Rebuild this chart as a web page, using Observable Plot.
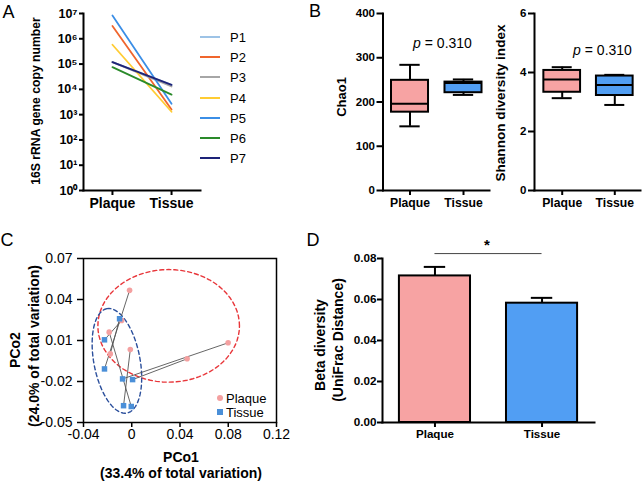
<!DOCTYPE html>
<html><head><meta charset="utf-8">
<script src="https://cdn.jsdelivr.net/npm/d3@7"></script>
<script src="https://cdn.jsdelivr.net/npm/@observablehq/plot@0.6"></script>
<style>
body{margin:0;background:#fff}
#root{position:relative;width:643px;height:481px;overflow:hidden;background:#fff;font-family:"Liberation Sans",Arial,Helvetica,sans-serif;color:#000}
.abs{position:absolute;white-space:nowrap;line-height:1}
#root svg{position:absolute;overflow:visible;background:transparent}
</style></head><body><div id="root"></div>
<script>
// ---------------- DATA ----------------
const groups = ["Plaque", "Tissue"];
const groupFill = ["#f7a3a3", "#519ef3"];

// Panel A: 16S rRNA gene copy number per patient
const patients = ["P1", "P2", "P3", "P4", "P5", "P6", "P7"];
const patientColors = ["#9dc3e6", "#f0652d", "#a6a6a6", "#ffcc33", "#3b8ee6", "#2a8a2a", "#1d2378"];
const copyPlaque = [1.2e5, 3.2e6, 1.2e5, 5.8e5, 8.3e6, 7.6e4, 1.2e5];
const copyTissue = [1.5e4, 1.6e3, 1.3e4, 1.3e3, 2.7e3, 6.2e3, 1.5e4];
const copyTicks = [1, 10, 100, 1e3, 1e4, 1e5, 1e6, 1e7];

// Panel B: box plot summaries [Plaque, Tissue]
const chaoMin = [145, 216], chaoQ1 = [177, 221], chaoMedian = [196, 243], chaoQ3 = [249, 245], chaoMax = [284, 251];
const chaoTicks = [0, 100, 200, 300, 400];
const shanMin = [3.13, 2.90], shanQ1 = [3.33, 3.22], shanMedian = [3.76, 3.58], shanQ3 = [4.07, 3.88], shanMax = [4.18, 3.92];
const shanTicks = [0, 2, 4, 6];
const pText = ["0.310", "0.310"];

// Panel C: PCoA coordinates, paired by patient (plaque i <-> tissue i)
const pcoPlaqueX = [-0.0018, -0.0084, -0.0187, -0.0178, -0.0012, 0.0459, 0.0799];
const pcoPlaqueY = [0.0467, 0.0247, 0.0161, 0.0002, 0.0034, -0.0034, 0.0083];
const pcoTissueX = [-0.0226, -0.0226, -0.0004, -0.0101, -0.0068, 0.0007, -0.0076];
const pcoTissueY = [-0.0108, 0.0105, -0.0383, 0.0259, -0.0377, -0.0186, -0.0181];
const pcoXTicks = [-0.04, 0, 0.04, 0.08, 0.12];
const pcoYTicks = [-0.05, -0.02, 0.01, 0.04, 0.07];
// confidence ellipses: center, half major-axis vector, half minor-axis vector
const ellCx = [0.0306, -0.0123], ellCy = [0.0207, -0.0049];
const ellMx = [0.0587, -0.0083], ellMy = [0, 0.0382];
const ellNx = [0, 0.0188], ellNy = [0.0412, 0.0032];
const ellColor = ["#e8363a", "#2b4f9c"];

// Panel D: beta diversity mean +/- SEM
const betaMean = [0.0715, 0.0582];
const betaSem = [0.0044, 0.0026];
const betaTicks = [0, 0.02, 0.04, 0.06, 0.08];
const sigLevel = 0.0824;

// ---------------- HELPERS ----------------
const FONT = "'Liberation Sans', Arial, Helvetica, sans-serif";
const root = document.getElementById("root");
function put(svg, left, top) { svg.style.left = left + "px"; svg.style.top = top + "px"; root.appendChild(svg); }
function label(text, x, y, o = {}) {
  const d = document.createElement("div");
  d.className = "abs";
  d.style.left = x + "px"; d.style.top = y + "px";
  d.style.fontSize = (o.size || 14) + "px";
  d.style.fontWeight = o.weight || "bold";
  d.style.transform = o.rotate ? "translate(-50%,-50%) rotate(-90deg)" : (o.left ? "translate(0,-50%)" : "translate(-50%,-50%)");
  if (o.html) d.innerHTML = text; else d.textContent = text;
  root.appendChild(d);
  return d;
}
const idx = d3.range(2);
const sup = ["\u2070", "\u00b9", "\u00b2", "\u00b3", "\u2074", "\u2075", "\u2076", "\u2077"];

// ---------------- PANEL A ----------------
const rowsA = patients.flatMap((p, i) => [
  {patient: p, color: patientColors[i], g: 0, copies: copyPlaque[i]},
  {patient: p, color: patientColors[i], g: 1, copies: copyTissue[i]}
]);
const plotA = Plot.plot({
  width: 210, height: 215, marginLeft: 83, marginRight: 10, marginTop: 13, marginBottom: 25,
  style: {fontFamily: FONT, fontWeight: "bold", background: "transparent"},
  x: {type: "linear", domain: [-0.49, 1.49]},
  y: {type: "log", domain: [1, 1e7]},
  marks: [
    Plot.line(rowsA, {x: "g", y: "copies", z: "patient", stroke: "color", strokeWidth: 1.8}),
    Plot.frame({anchor: "left", strokeWidth: 2}),
    Plot.frame({anchor: "bottom", strokeWidth: 2}),
    Plot.axisY({ticks: copyTicks, tickFormat: d => "10" + sup[Math.round(Math.log10(d))], tickSize: 4, tickPadding: 2, fontSize: 12.5, strokeWidth: 2, label: null}),
    Plot.axisX({ticks: [0, 1], tickFormat: i => groups[i], tickSize: 5, tickPadding: 3, fontSize: 14, strokeWidth: 2, label: null})
  ]
});
put(plotA, 0, 0);
label("16S rRNA gene copy number", 36, 101, {size: 12.2, rotate: true});
patients.forEach((p, i) => {
  const y = 37 + 20.2 * i;
  const ln = document.createElement("div");
  ln.className = "abs";
  Object.assign(ln.style, {left: "200px", top: (y - 1) + "px", width: "20px", height: "0px", borderTop: "2px solid " + patientColors[i]});
  root.appendChild(ln);
  label(p, 230, y, {size: 13, weight: "normal", left: true});
});

// ---------------- PANEL B ----------------
function boxPlot({width, ml, mr, ticks, mins, q1, med, q3, maxs, boxHalf, capHalf, domain}) {
  return Plot.plot({
    width, height: 215, marginLeft: ml, marginRight: mr, marginTop: 13, marginBottom: 25,
    style: {fontFamily: FONT, fontWeight: "bold", background: "transparent"},
    x: {type: "linear", domain},
    y: {domain: [ticks[0], ticks[ticks.length - 1]]},
    marks: [
      Plot.ruleX(idx, {x: i => i, y1: i => mins[i], y2: i => maxs[i], strokeWidth: 2}),
      Plot.ruleY(idx, {y: i => mins[i], x1: i => i - capHalf, x2: i => i + capHalf, strokeWidth: 2}),
      Plot.ruleY(idx, {y: i => maxs[i], x1: i => i - capHalf, x2: i => i + capHalf, strokeWidth: 2}),
      Plot.rect(idx, {x1: i => i - boxHalf, x2: i => i + boxHalf, y1: i => q1[i], y2: i => q3[i], fill: i => groupFill[i], stroke: "#000", strokeWidth: 2}),
      Plot.ruleY(idx, {y: i => med[i], x1: i => i - boxHalf, x2: i => i + boxHalf, strokeWidth: 2}),
      Plot.frame({anchor: "left", strokeWidth: 2}),
      Plot.frame({anchor: "bottom", strokeWidth: 2}),
      Plot.axisY({ticks, tickFormat: d => String(d), tickSize: 6, tickPadding: 2, fontSize: 11.5, strokeWidth: 2, label: null}),
      Plot.axisX({ticks: [0, 1], tickFormat: i => groups[i], tickSize: 5, tickPadding: 3, fontSize: 12.2, strokeWidth: 2, label: null})
    ]
  });
}
const plotB1 = boxPlot({width: 165, ml: 52.5, mr: 6, ticks: chaoTicks, mins: chaoMin, q1: chaoQ1, med: chaoMedian, q3: chaoQ3, maxs: chaoMax, boxHalf: 0.346, capHalf: 0.19, domain: [-0.505, 1.486]});
put(plotB1, 330, 0);
const plotB2 = boxPlot({width: 153, ml: 44, mr: 3, ticks: shanTicks, mins: shanMin, q1: shanQ1, med: shanMedian, q3: shanQ3, maxs: shanMax, boxHalf: 0.349, capHalf: 0.19, domain: [-0.527, 1.489]});
put(plotB2, 490, 0);
label("Chao1", 341, 97, {size: 13, rotate: true});
label("Shannon diversity index", 501, 103, {size: 13.6, rotate: true});
label("<i>p</i> = " + pText[0], 442.5, 43, {size: 14, weight: "normal", html: true});
label("<i>p</i> = " + pText[1], 602.5, 50, {size: 14, weight: "normal", html: true});

// ---------------- PANEL C ----------------
const pairIdx = d3.range(pcoPlaqueX.length);
const ellRows = [0, 1].flatMap(e => d3.range(0, 73).map(k => {
  const t = k / 72 * 2 * Math.PI;
  return {e, x: ellCx[e] + Math.cos(t) * ellMx[e] + Math.sin(t) * ellNx[e], y: ellCy[e] + Math.cos(t) * ellMy[e] + Math.sin(t) * ellNy[e]};
}));
const plotC = Plot.plot({
  width: 290, height: 230, marginLeft: 83, marginRight: 14, marginTop: 28, marginBottom: 38,
  style: {fontFamily: FONT, background: "transparent"},
  x: {domain: [-0.04, 0.12]},
  y: {domain: [-0.05, 0.07]},
  marks: [
    Plot.line(ellRows, {x: "x", y: "y", z: "e", stroke: d => ellColor[d.e], strokeWidth: 1.4, strokeDasharray: "4,3"}),
    Plot.link(pairIdx, {x1: i => pcoPlaqueX[i], y1: i => pcoPlaqueY[i], x2: i => pcoTissueX[i], y2: i => pcoTissueY[i], stroke: "#555", strokeWidth: 0.9}),
    Plot.dot(pairIdx, {x: i => pcoPlaqueX[i], y: i => pcoPlaqueY[i], r: 2.8, fill: "#f4a0a0"}),
    Plot.dot(pairIdx, {x: i => pcoTissueX[i], y: i => pcoTissueY[i], r: 3.1, symbol: "square", fill: "#4a8fd8"}),
    Plot.frame({strokeWidth: 1.5}),
    Plot.axisY({ticks: pcoYTicks, tickFormat: d => d.toFixed(2), tickSize: 6, tickPadding: 5, fontSize: 14, strokeWidth: 1.5, label: null}),
    Plot.axisX({ticks: pcoXTicks, tickFormat: d => d === 0 ? "0" : d.toFixed(2), tickSize: 5, tickPadding: 2, fontSize: 14, strokeWidth: 1.5, label: null})
  ]
});
put(plotC, 0, 230);
label("PCo1", 181, 457, {size: 14});
label("(33.4% of total variation)", 181, 473, {size: 14});
label("PCo2", 15, 350, {size: 14, rotate: true});
label("(24.0% of total variation)", 34, 346, {size: 14, rotate: true});
// legend C
const lg1 = document.createElement("div");
lg1.className = "abs";
Object.assign(lg1.style, {left: "217px", top: "395px", width: "6px", height: "6px", borderRadius: "50%", background: "#f4a0a0"});
root.appendChild(lg1);
const lg2 = document.createElement("div");
lg2.className = "abs";
Object.assign(lg2.style, {left: "217px", top: "409px", width: "6px", height: "6px", background: "#4a8fd8"});
root.appendChild(lg2);
label(groups[0], 226, 398, {size: 13, weight: "normal", left: true});
label(groups[1], 226, 412, {size: 13, weight: "normal", left: true});

// ---------------- PANEL D ----------------
const plotD = Plot.plot({
  width: 270, height: 217, marginLeft: 52, marginRight: 6, marginTop: 28, marginBottom: 25,
  style: {fontFamily: FONT, fontWeight: "bold", background: "transparent"},
  x: {type: "linear", domain: [-0.49, 1.49]},
  y: {domain: [0, 0.08]},
  marks: [
    Plot.ruleX(idx, {x: i => i, y1: i => betaMean[i], y2: i => betaMean[i] + betaSem[i], strokeWidth: 2}),
    Plot.ruleY(idx, {y: i => betaMean[i] + betaSem[i], x1: i => i - 0.1, x2: i => i + 0.1, strokeWidth: 2}),
    Plot.rect(idx, {x1: i => i - 0.332, x2: i => i + 0.332, y1: 0, y2: i => betaMean[i], fill: i => groupFill[i], stroke: "#000", strokeWidth: 2}),
    Plot.ruleY([sigLevel], {x1: 0, x2: 1, stroke: "#444", strokeWidth: 1}),
    Plot.frame({anchor: "left", strokeWidth: 2}),
    Plot.frame({anchor: "bottom", strokeWidth: 2}),
    Plot.axisY({ticks: betaTicks, tickFormat: d => d.toFixed(2), tickSize: 5, tickPadding: 1, fontSize: 11.7, strokeWidth: 2, label: null}),
    Plot.axisX({ticks: [0, 1], tickFormat: i => groups[i], tickSize: 5, tickPadding: 2, fontSize: 11.6, strokeWidth: 2, label: null})
  ]
});
put(plotD, 330, 230);
label("*", 487, 244, {size: 15});
label("Beta diversity", 320, 345, {size: 14, rotate: true});
label("(UniFrac Distance)", 338, 340, {size: 14, rotate: true});

// ---------------- PANEL LETTERS ----------------
label("A", 8.5, 11.5, {size: 18, weight: "normal"});
label("B", 315, 10.5, {size: 18, weight: "normal"});
label("C", 7, 240, {size: 18, weight: "normal"});
label("D", 313, 240, {size: 18, weight: "normal"});
</script></body></html>
